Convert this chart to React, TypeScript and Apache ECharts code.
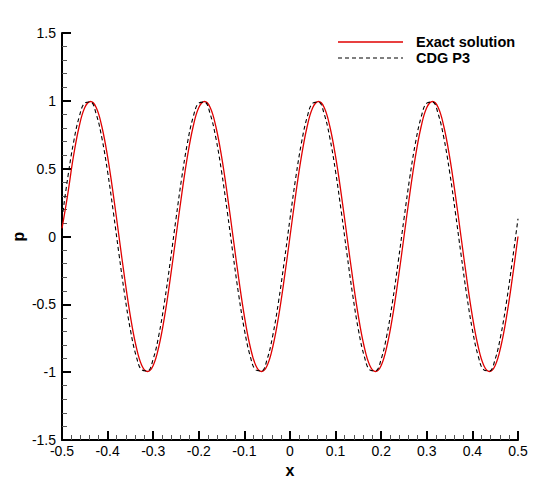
import React, { useEffect, useRef } from "react";
import * as echarts from "echarts";

const xValues = [
  -0.5, -0.4875, -0.475, -0.4625, -0.45, -0.4375, -0.425, -0.4125, -0.4, -0.3875,
  -0.375, -0.3625, -0.35, -0.3375, -0.325, -0.3125, -0.3, -0.2875, -0.275, -0.2625,
  -0.25, -0.2375, -0.225, -0.2125, -0.2, -0.1875, -0.175, -0.1625, -0.15, -0.1375,
  -0.125, -0.1125, -0.1, -0.0875, -0.075, -0.0625, -0.05, -0.0375, -0.025, -0.0125,
  0, 0.0125, 0.025, 0.0375, 0.05, 0.0625, 0.075, 0.0875, 0.1, 0.1125,
  0.125, 0.1375, 0.15, 0.1625, 0.175, 0.1875, 0.2, 0.2125, 0.225, 0.2375,
  0.25, 0.2625, 0.275, 0.2875, 0.3, 0.3125, 0.325, 0.3375, 0.35, 0.3625,
  0.375, 0.3875, 0.4, 0.4125, 0.425, 0.4375, 0.45, 0.4625, 0.475, 0.4875,
  0.5,
];

const exactValues = [
  0.06, 0.309, 0.588, 0.809, 0.951, 0.995, 0.951, 0.809, 0.588, 0.309,
  0, -0.309, -0.588, -0.809, -0.951, -0.995, -0.951, -0.809, -0.588, -0.309,
  0, 0.309, 0.588, 0.809, 0.951, 0.995, 0.951, 0.809, 0.588, 0.309,
  0, -0.309, -0.588, -0.809, -0.951, -0.995, -0.951, -0.809, -0.588, -0.309,
  0, 0.309, 0.588, 0.809, 0.951, 0.995, 0.951, 0.809, 0.588, 0.309,
  0, -0.309, -0.588, -0.809, -0.951, -0.995, -0.951, -0.809, -0.588, -0.309,
  0, 0.309, 0.588, 0.809, 0.951, 0.995, 0.951, 0.809, 0.588, 0.309,
  0, -0.309, -0.588, -0.809, -0.951, -0.995, -0.951, -0.809, -0.588, -0.309,
  0,
];

const cdgValues = [
  0.131, 0.431, 0.688, 0.879, 0.983, 0.991, 0.903, 0.725, 0.477, 0.182,
  -0.131, -0.431, -0.688, -0.879, -0.983, -0.991, -0.903, -0.725, -0.477, -0.182,
  0.131, 0.431, 0.688, 0.879, 0.983, 0.991, 0.903, 0.725, 0.477, 0.182,
  -0.131, -0.431, -0.688, -0.879, -0.983, -0.991, -0.903, -0.725, -0.477, -0.182,
  0.131, 0.431, 0.688, 0.879, 0.983, 0.991, 0.903, 0.725, 0.477, 0.182,
  -0.131, -0.431, -0.688, -0.879, -0.983, -0.991, -0.903, -0.725, -0.477, -0.182,
  0.131, 0.431, 0.688, 0.879, 0.983, 0.991, 0.903, 0.725, 0.477, 0.182,
  -0.131, -0.431, -0.688, -0.879, -0.983, -0.991, -0.903, -0.725, -0.477, -0.182,
  0.131,
];

const seriesNames = ["Exact solution", "CDG P3"];

const FONT = "'Liberation Sans', Arial, Helvetica, sans-serif";

export default function App() {
  const ref = useRef<HTMLDivElement>(null);

  useEffect(() => {
    if (!ref.current) return;
    const chart = echarts.init(ref.current, undefined, { renderer: "svg" });

    const axisCommon = {
      axisLine: { show: true, onZero: false, lineStyle: { color: "#000", width: 2 } },
      axisTick: { show: true, inside: true, length: 9, lineStyle: { color: "#000", width: 2 } },
      minorTick: { show: true, splitNumber: 5, length: 5, lineStyle: { color: "#555", width: 1 } },
      splitLine: { show: false },
      minorSplitLine: { show: false },
    };

    chart.setOption({
      animation: false,
      backgroundColor: "#fff",
      grid: { left: 62, right: 30, top: 33, bottom: 48, containLabel: false },
      xAxis: {
        type: "value",
        min: -0.5,
        max: 0.5,
        interval: 0.1,
        ...axisCommon,
        axisLabel: {
          color: "#000",
          fontFamily: FONT,
          fontSize: 14,
          margin: 4,
          formatter: (v: number) => String(Math.round(v * 10) / 10),
        },
        name: "x",
        nameLocation: "middle",
        nameGap: 22,
        nameMoveOverlap: false,
        nameTextStyle: { color: "#000", fontFamily: FONT, fontSize: 16, fontWeight: "bold" },
      },
      yAxis: {
        type: "value",
        min: -1.5,
        max: 1.5,
        interval: 0.5,
        ...axisCommon,
        axisLabel: {
          color: "#000",
          fontFamily: FONT,
          fontSize: 14,
          margin: 6,
          formatter: (v: number) => String(Math.round(v * 10) / 10),
        },
        name: "p",
        nameLocation: "middle",
        nameGap: 36,
        nameMoveOverlap: false,
        nameRotate: 90,
        nameTextStyle: { color: "#000", fontFamily: FONT, fontSize: 16, fontWeight: "bold" },
      },
      series: [
        {
          name: seriesNames[0],
          type: "line",
          data: xValues.map((x, i) => [x, exactValues[i]]),
          showSymbol: false,
          smooth: 0.4,
          lineStyle: { color: "#e00000", width: 1.3 },
          z: 2,
        },
        {
          name: seriesNames[1],
          type: "line",
          data: xValues.map((x, i) => [x, cdgValues[i]]),
          showSymbol: false,
          smooth: 0.4,
          lineStyle: { color: "#000", width: 1.1, type: [4, 3] },
          z: 3,
        },
      ],
      graphic: [
        {
          type: "line",
          shape: { x1: 338, y1: 42, x2: 403, y2: 42 },
          style: { stroke: "#e00000", lineWidth: 1.3 },
        },
        {
          type: "line",
          shape: { x1: 338, y1: 58, x2: 403, y2: 58 },
          style: { stroke: "#000", lineWidth: 1.1, lineDash: [4, 3] },
        },
        {
          type: "text",
          x: 416,
          y: 42,
          style: {
            text: seriesNames[0],
            fill: "#000",
            font: `bold 14.5px ${FONT}`,
            verticalAlign: "middle",
          },
        },
        {
          type: "text",
          x: 416,
          y: 58,
          style: {
            text: seriesNames[1],
            fill: "#000",
            font: `bold 14.5px ${FONT}`,
            verticalAlign: "middle",
          },
        },
      ],
    });

    return () => chart.dispose();
  }, []);

  return <div ref={ref} style={{ width: 548, height: 488, position: "absolute", left: 0, top: 0 }} />;
}
